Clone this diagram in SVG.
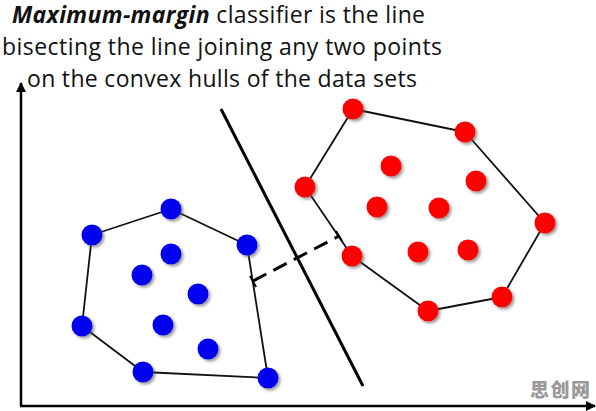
<svg xmlns="http://www.w3.org/2000/svg" width="596" height="411" viewBox="0 0 596 411">
<style>
.title{font-family:"Open Sans","Liberation Sans",sans-serif;font-size:23px;fill:#111}
.hull{fill:none;stroke:#111;stroke-width:1.8;stroke-linejoin:round}
.blue{fill:#0000ee;filter:url(#sh)}
.red{fill:#ff0000;filter:url(#sh)}
.axis{stroke:#000;stroke-width:2.5;fill:none}
</style>
<defs>
<filter id="sh" x="-50%" y="-50%" width="200%" height="200%">
<feDropShadow dx="2" dy="2" stdDeviation="1.5" flood-color="#555" flood-opacity="0.6"/>
</filter>
<marker id="ah" viewBox="0 0 10 10" refX="9" refY="5" markerWidth="4" markerHeight="4" orient="auto">
<path d="M0,0 L10,5 L0,10 z" fill="#000"/>
</marker>
</defs>
<g id="title">
<text class="title" x="12" y="23" textLength="413"><tspan font-weight="bold" font-style="italic">Maximum-margin</tspan> classifier is the line</text>
<text class="title" x="2" y="55" textLength="440">bisecting the line joining any two points</text>
<text class="title" x="27" y="87" textLength="390">on the convex hulls of the data sets</text>
</g>
<g id="axes">
<line class="axis" x1="21" y1="406" x2="21" y2="83" marker-end="url(#ah)"/>
<line class="axis" x1="20" y1="406" x2="595" y2="406" marker-end="url(#ah)"/>
</g>
<g id="connectors">
<polygon id="blue-hull" class="hull" points="92,235 171,209 247,245 268,378 143,372 82,326"/>
<polygon id="red-hull" class="hull" points="353,109 465,132 545,223 502,297 428,311 352,256 305,187"/>
<line id="separator" x1="221" y1="109" x2="363" y2="386" stroke="#000" stroke-width="3"/>
<line id="margin" x1="253" y1="281" x2="339" y2="236" stroke="#000" stroke-width="3" stroke-dasharray="15,8"/>
<line x1="250" y1="276" x2="256" y2="287" stroke="#000" stroke-width="2"/>
<line x1="336" y1="231" x2="342" y2="241" stroke="#000" stroke-width="2"/>
</g>
<g id="blue-points">
<circle class="blue" cx="171" cy="209" r="10.5"/>
<circle class="blue" cx="92" cy="235" r="10.5"/>
<circle class="blue" cx="247" cy="245" r="10.5"/>
<circle class="blue" cx="171" cy="254" r="10.5"/>
<circle class="blue" cx="142" cy="275" r="10.5"/>
<circle class="blue" cx="198" cy="294" r="10.5"/>
<circle class="blue" cx="82" cy="326" r="10.5"/>
<circle class="blue" cx="163" cy="325" r="10.5"/>
<circle class="blue" cx="208" cy="349" r="10.5"/>
<circle class="blue" cx="143" cy="372" r="10.5"/>
<circle class="blue" cx="268" cy="378" r="10.5"/>
</g>
<g id="red-points">
<circle class="red" cx="353" cy="109" r="10.5"/>
<circle class="red" cx="465" cy="132" r="10.5"/>
<circle class="red" cx="391" cy="166" r="10.5"/>
<circle class="red" cx="476" cy="181" r="10.5"/>
<circle class="red" cx="305" cy="187" r="10.5"/>
<circle class="red" cx="377" cy="207" r="10.5"/>
<circle class="red" cx="439" cy="208" r="10.5"/>
<circle class="red" cx="545" cy="223" r="10.5"/>
<circle class="red" cx="352" cy="256" r="10.5"/>
<circle class="red" cx="418" cy="252" r="10.5"/>
<circle class="red" cx="468" cy="250" r="10.5"/>
<circle class="red" cx="502" cy="297" r="10.5"/>
<circle class="red" cx="428" cy="311" r="10.5"/>
</g>
<text x="530" y="397" font-family="'Noto Sans CJK SC',sans-serif" font-size="19" font-weight="900" fill="#999999" textLength="60">思创网</text>
</svg>
